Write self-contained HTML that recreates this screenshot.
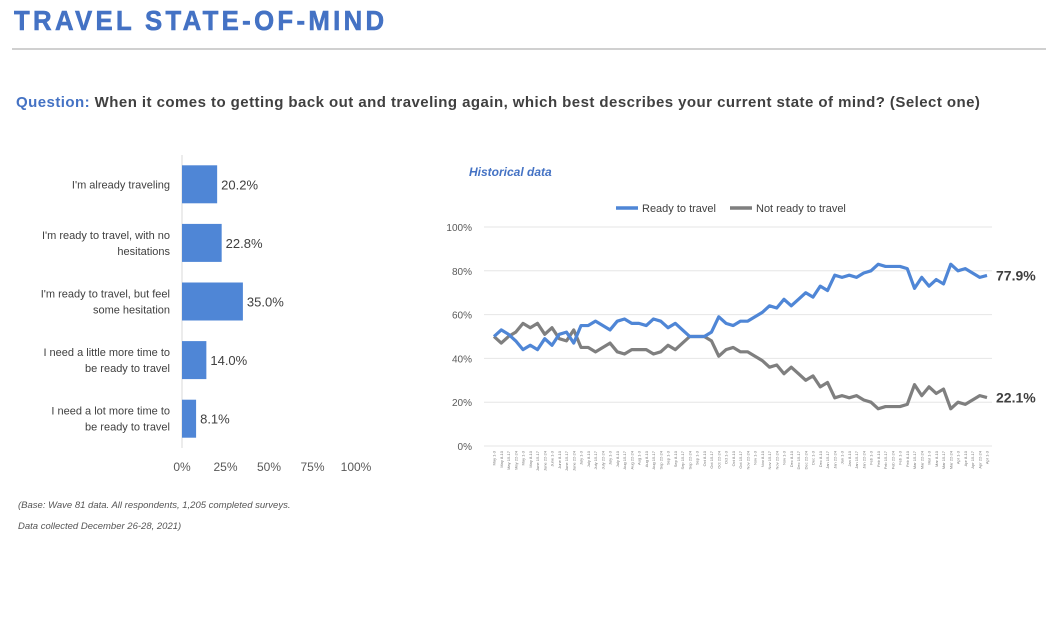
<!DOCTYPE html>
<html><head><meta charset="utf-8">
<style>
body{margin:0;width:1056px;height:563px;background:#fff;font-family:"Liberation Sans",sans-serif;position:relative;overflow:hidden}
.t{position:absolute;white-space:nowrap}
</style></head><body>
<div class="t" style="left:14px;top:5px;font-size:28px;font-weight:bold;color:#4472c4;letter-spacing:3.6px;transform:scaleX(0.92);transform-origin:left;-webkit-text-stroke:0.6px #4472c4">TRAVEL STATE-OF-MIND</div>
<div style="position:absolute;left:12px;top:48px;width:1034px;height:2px;background:#d0d0d0"></div>
<div class="t" style="left:16px;top:94px;font-size:15px;font-weight:bold;color:#404040;letter-spacing:0.45px"><span style="color:#4472c4">Question:</span> When it comes to getting back out and traveling again, which best describes your current state of mind? (Select one)</div>
<div class="t" style="left:469px;top:165px;font-size:12px;font-style:italic;font-weight:bold;color:#4472c4">Historical data</div>
<div class="t" style="left:18px;top:500px;font-size:9.5px;font-style:italic;color:#555">(Base: Wave 81 data. All respondents, 1,205 completed surveys.</div>
<div class="t" style="left:18px;top:521px;font-size:9.5px;font-style:italic;color:#555">Data collected December 26-28, 2021)</div>
<svg id="bar" width="400" height="480" style="position:absolute;left:0;top:140px"></svg>
<svg id="line" width="600" height="350" style="position:absolute;left:440px;top:190px"></svg>
<script>
const barCats=[["I'm already traveling"],["I'm ready to travel, with no","hesitations"],["I'm ready to travel, but feel","some hesitation"],["I need a little more time to","be ready to travel"],["I need a lot more time to","be ready to travel"]];
const barVals=[20.2,22.8,35.0,14.0,8.1];
const barTicks=[0,25,50,75,100];
const ready=[50,53,51,48,44,46,44,49,46,51,52,47,55,55,57,55,53,57,58,56,56,55,58,57,54,56,53,50,50,50,52,59,56,55,57,57,59,61,64,63,67,64,67,70,68,73,71,78,77,78,77,79,80,83,82,82,82,81,72,77,73,76,74,83,80,81,79,77,77.9];
const notReady=[50,47,50,52,56,54,56,51,54,49,48,53,45,45,43,45,47,43,42,44,44,44,42,43,46,44,47,50,50,50,48,41,44,45,43,43,41,39,36,37,33,36,33,30,32,27,29,22,23,22,23,21,20,17,18,18,18,19,28,23,27,24,26,17,20,19,21,23,22.1];
const lineTicks=[0,20,40,60,80,100];
const months=["May","June","July","Aug","Sep","Oct","Nov","Dec","Jan","Feb","Mar","Apr"];
const xLabels=ready.map((v,i)=>months[Math.floor(i/5.75)%12]+" "+(1+(i*7)%28)+"-"+(3+(i*7)%28));
const NS="http://www.w3.org/2000/svg";
function mk(p,tag,a){const e=document.createElementNS(NS,tag);for(const k in a)e.setAttribute(k,a[k]);p.appendChild(e);return e;}
const B=document.getElementById('bar');
const bx0=182,bw=174,by0=15,step=58.6,bh=38;
const xs=v=>bx0+v/100*bw;
mk(B,'line',{x1:bx0,y1:by0,x2:bx0,y2:by0+step*5,stroke:'#d9d9d9'});
barVals.forEach((v,i)=>{
 const cy=by0+step*(i+0.5);
 const r=mk(B,'rect',{x:bx0,y:cy-bh/2,width:xs(v)-bx0,height:bh,fill:'#4f86d6'});
 
 
 const t=mk(B,'text',{x:xs(v)+4,y:cy+5,'font-size':13,fill:'#404040'});t.textContent=v.toFixed(1)+'%';
 
 
 const lines=barCats[i];
 lines.forEach((s,j)=>{const c=mk(B,'text',{x:bx0-12,y:cy+4+(j-(lines.length-1)/2)*16,'font-size':11,fill:'#404040','text-anchor':'end'});c.textContent=s;
 
 });
});
barTicks.forEach(v=>{const t=mk(B,'text',{x:xs(v),y:331,'font-size':12,fill:'#595959','text-anchor':'middle'});t.textContent=v+'%';
 
 });
const L=document.getElementById('line');
const lx0=54,lx1=547,ly0=256,ly1=37;
const ly=v=>ly0-(v/100)*(ly0-ly1);
const lx=i=>lx0+i*(lx1-lx0)/(ready.length-1);
lineTicks.forEach(v=>{mk(L,'line',{x1:lx0-10,x2:lx1+5,y1:ly(v),y2:ly(v),stroke:'#e6e6e6','stroke-width':1});
 const t=mk(L,'text',{x:lx0-22,y:ly(v)+4,'font-size':10,fill:'#595959','text-anchor':'end'});t.textContent=v+'%';
 
 });
xLabels.forEach((s,i)=>{const t=mk(L,'text',{x:0,y:0,'font-size':4,fill:'#777','text-anchor':'end',transform:`translate(${lx(i)+1.5},${ly0+5}) rotate(-90)`});t.textContent=s;
 
 });
function series(arr,col,name){const p=mk(L,'polyline',{points:arr.map((v,i)=>lx(i)+','+ly(v)).join(' '),fill:'none',stroke:col,'stroke-width':3.2,'stroke-linejoin':'round'});
 
 }
series(notReady,'#7f7f7f','not-ready-line');
series(ready,'#4f86d6','ready-line');
const e1=mk(L,'text',{x:lx1+9,y:ly(ready[ready.length-1])+5,'font-size':14,'font-weight':'bold',fill:'#404040'});e1.textContent=ready[ready.length-1].toFixed(1)+'%';


const e2=mk(L,'text',{x:lx1+9,y:ly(notReady[notReady.length-1])+5,'font-size':14,'font-weight':'bold',fill:'#404040'});e2.textContent=notReady[notReady.length-1].toFixed(1)+'%';


mk(L,'line',{x1:176,x2:198,y1:18,y2:18,stroke:'#4f86d6','stroke-width':3.5});
const g1=mk(L,'text',{x:202,y:22,'font-size':11,fill:'#404040'});g1.textContent='Ready to travel';


mk(L,'line',{x1:290,x2:312,y1:18,y2:18,stroke:'#7f7f7f','stroke-width':3.5});
const g2=mk(L,'text',{x:316,y:22,'font-size':11,fill:'#404040'});g2.textContent='Not ready to travel';


</script>
</body></html>
